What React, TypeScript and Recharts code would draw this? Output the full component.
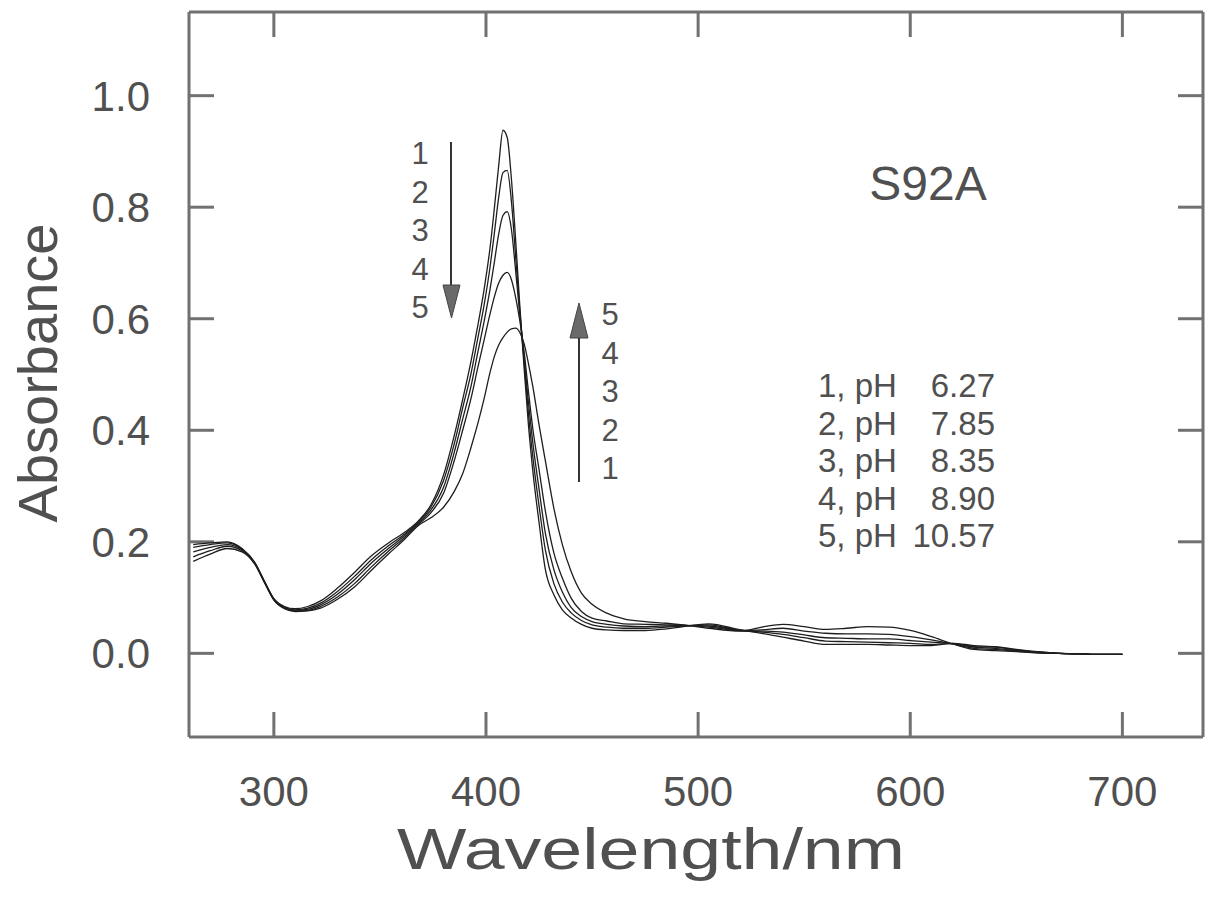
import React from "react";
import { LineChart, Line, XAxis, YAxis, ReferenceLine } from "recharts";

// wavelength grid (nm), denser around the Soret band
const wavelengths = [
  262, 270, 278, 285, 291, 296, 300, 305, 310, 316, 322, 330, 338, 346, 354, 362, 368, 374,
  380, 385, 389, 393, 396, 399, 402, 404, 406, 408, 410, 412, 414, 416, 418, 420, 422, 425,
  428, 432, 436, 440, 445, 450, 457, 465, 475, 485, 493, 505, 520, 530, 540, 550, 560, 570,
  580, 590, 600, 610, 620, 630, 640, 650, 660, 670, 680, 690, 700,
];

// absorbance, one array per pH
const pH627 = [
  0.195, 0.198, 0.2, 0.188, 0.163, 0.126, 0.098, 0.084, 0.08, 0.084, 0.094, 0.117, 0.145, 0.175, 0.198, 0.218, 0.237, 0.266,
  0.32, 0.39, 0.455, 0.525, 0.585, 0.65, 0.73, 0.8, 0.875, 0.938, 0.925, 0.85, 0.74, 0.62, 0.51, 0.41, 0.33, 0.235,
  0.15, 0.105, 0.078, 0.064, 0.052, 0.045, 0.042, 0.041, 0.041, 0.044, 0.048, 0.053, 0.042, 0.036, 0.029, 0.022, 0.016, 0.016,
  0.016, 0.015, 0.014, 0.014, 0.018, 0.014, 0.012, 0.007, 0.003, 0.0, -0.001, -0.002, -0.002,
];
const pH785 = [
  0.19, 0.195, 0.198, 0.187, 0.162, 0.125, 0.097, 0.083, 0.078, 0.081, 0.09, 0.111, 0.138, 0.168, 0.193, 0.215, 0.235, 0.262,
  0.31, 0.375, 0.44, 0.503, 0.562, 0.622, 0.695, 0.755, 0.818, 0.862, 0.866, 0.81, 0.71, 0.612, 0.522, 0.43, 0.355, 0.265,
  0.185, 0.125, 0.092, 0.073, 0.059, 0.051, 0.047, 0.045, 0.045, 0.047, 0.049, 0.051, 0.041, 0.038, 0.034, 0.028, 0.022, 0.021,
  0.02, 0.019, 0.018, 0.016, 0.018, 0.012, 0.011, 0.006, 0.002, 0.0, -0.001, -0.002, -0.002,
];
const pH835 = [
  0.182, 0.19, 0.195, 0.186, 0.162, 0.125, 0.097, 0.082, 0.077, 0.079, 0.087, 0.106, 0.132, 0.162, 0.188, 0.212, 0.233, 0.257,
  0.298, 0.36, 0.42, 0.48, 0.537, 0.593, 0.655, 0.703, 0.752, 0.785, 0.792, 0.76, 0.685, 0.605, 0.53, 0.45, 0.38, 0.295,
  0.215, 0.15, 0.11, 0.083, 0.066, 0.057, 0.052, 0.049, 0.048, 0.049, 0.05, 0.049, 0.041, 0.04, 0.038, 0.033, 0.028, 0.027,
  0.026, 0.026, 0.023, 0.02, 0.017, 0.011, 0.009, 0.005, 0.002, 0.0, -0.001, -0.002, -0.002,
];
const pH890 = [
  0.173, 0.184, 0.192, 0.184, 0.161, 0.124, 0.096, 0.081, 0.076, 0.077, 0.084, 0.101, 0.125, 0.155, 0.183, 0.209, 0.231, 0.252,
  0.287, 0.345, 0.4, 0.458, 0.51, 0.56, 0.61, 0.64, 0.664, 0.678, 0.683, 0.67, 0.638, 0.595, 0.54, 0.47, 0.405, 0.33,
  0.255, 0.18, 0.135, 0.1, 0.075, 0.063, 0.058, 0.053, 0.052, 0.051, 0.05, 0.047, 0.041, 0.042, 0.045, 0.04, 0.036, 0.035,
  0.035, 0.034, 0.03, 0.024, 0.017, 0.009, 0.007, 0.004, 0.001, 0.0, -0.001, -0.002, -0.002,
];
const pH1057 = [
  0.165, 0.178, 0.188, 0.182, 0.16, 0.124, 0.096, 0.08, 0.075, 0.076, 0.081, 0.097, 0.119, 0.149, 0.178, 0.206, 0.229, 0.243,
  0.262, 0.29, 0.322, 0.37, 0.41, 0.455, 0.505, 0.533, 0.553, 0.566, 0.576, 0.582, 0.583, 0.575, 0.555, 0.52, 0.48, 0.41,
  0.345, 0.26, 0.195, 0.148, 0.108, 0.088, 0.072, 0.062, 0.057, 0.054, 0.051, 0.045, 0.04, 0.047, 0.052, 0.048, 0.043, 0.045,
  0.048, 0.047, 0.041, 0.03, 0.017, 0.007, 0.005, 0.003, 0.001, 0.0, -0.001, -0.002, -0.002,
];

const xTicks = [300, 400, 500, 600, 700];
const yTicks = [0, 0.2, 0.4, 0.6, 0.8, 1.0];
const legendRows: [string, string][] = [
  ["1, pH", "6.27"],
  ["2, pH", "7.85"],
  ["3, pH", "8.35"],
  ["4, pH", "8.90"],
  ["5, pH", "10.57"],
];
const downLabels = ["1", "2", "3", "4", "5"];
const upLabels = ["5", "4", "3", "2", "1"];

const series = [
  { key: "a1", values: pH627 },
  { key: "a2", values: pH785 },
  { key: "a3", values: pH835 },
  { key: "a4", values: pH890 },
  { key: "a5", values: pH1057 },
];

const data = wavelengths.map((w, i) => {
  const row: Record<string, number> = { w };
  series.forEach((s) => (row[s.key] = s.values[i]));
  return row;
});

const W = 1214;
const H = 899;
const MARGIN = { top: 12, right: 11, bottom: 132, left: 109 };
const FONT = "'Liberation Sans', Arial, Helvetica, sans-serif";
const FRAME = "#717171";
const TEXT = "#505050";
const X_DOMAIN: [number, number] = [260, 738];
const Y_DOMAIN: [number, number] = [-0.15, 1.15];

// inward tick length, 25px, expressed in data units
const PLOT_W = W - MARGIN.left - 80 - MARGIN.right;
const PLOT_H = H - MARGIN.top - MARGIN.bottom - 30;
const TICK_X = (25 * (X_DOMAIN[1] - X_DOMAIN[0])) / PLOT_W;
const TICK_Y = (25 * (Y_DOMAIN[1] - Y_DOMAIN[0])) / PLOT_H;

const frameProps = { stroke: FRAME, strokeWidth: 3, ifOverflow: "visible" as const };

function Annotations() {
  return (
    <svg
      width={W}
      height={H}
      style={{ position: "absolute", left: 0, top: 0, pointerEvents: "none" }}
      fontFamily={FONT}
    >
      {/* down arrow */}
      <line x1={451} y1={142} x2={451} y2={292} stroke="#333" strokeWidth={2} />
      <polygon points="443,285 460,285 451.5,318" fill="#6a6a6a" stroke="#444" strokeWidth={1} />
      {downLabels.map((t, i) => (
        <text key={"d" + i} x={420} y={164 + i * 38.5} fontSize={31} fill={TEXT} textAnchor="middle">
          {t}
        </text>
      ))}
      {/* up arrow */}
      <line x1={579} y1={482} x2={579} y2={332} stroke="#333" strokeWidth={2} />
      <polygon points="570,338 588,338 579,303" fill="#6a6a6a" stroke="#444" strokeWidth={1} />
      {upLabels.map((t, i) => (
        <text key={"u" + i} x={610} y={325 + i * 38.5} fontSize={31} fill={TEXT} textAnchor="middle">
          {t}
        </text>
      ))}
      <text x={928} y={200} fontSize={48} fill={TEXT} textAnchor="middle">
        S92A
      </text>
      {legendRows.map(([a, b], i) => (
        <g key={"l" + i}>
          <text x={818} y={397 + i * 37.5} fontSize={33} fill={TEXT}>
            {a}
          </text>
          <text x={995} y={397 + i * 37.5} fontSize={33} fill={TEXT} textAnchor="end">
            {b}
          </text>
        </g>
      ))}
      <text
        x={397}
        y={869}
        fontSize={58}
        fill={TEXT}
        textLength={508}
        lengthAdjust="spacingAndGlyphs"
      >
        Wavelength/nm
      </text>
      <text x={57} y={373} fontSize={56} fill={TEXT} textAnchor="middle" transform="rotate(-90 57 373)">
        Absorbance
      </text>
    </svg>
  );
}

export default function App() {
  return (
    <div style={{ position: "absolute", left: 0, top: 0, width: W, height: H, background: "#fff" }}>
      <LineChart width={W} height={H} data={data} margin={MARGIN} style={{ fontFamily: FONT }}>
        <XAxis
          dataKey="w"
          type="number"
          domain={X_DOMAIN}
          ticks={xTicks}
          allowDataOverflow
          height={30}
          axisLine={{ stroke: FRAME, strokeWidth: 3 }}
          tickLine={false}
          tickSize={0}
          tickMargin={39}
          tick={{ fontSize: 42, fill: TEXT }}
        />
        <YAxis
          type="number"
          domain={Y_DOMAIN}
          ticks={yTicks}
          allowDataOverflow
          width={80}
          axisLine={{ stroke: FRAME, strokeWidth: 3 }}
          tickLine={false}
          tickSize={0}
          tickMargin={39}
          tick={{ fontSize: 42, fill: TEXT }}
          tickFormatter={(v: number) => v.toFixed(1)}
        />
        {/* top and right frame */}
        <ReferenceLine y={Y_DOMAIN[1]} {...frameProps} />
        <ReferenceLine x={X_DOMAIN[1]} {...frameProps} />
        {/* inward ticks on all four sides */}
        {xTicks.map((t) => (
          <ReferenceLine
            key={"bt" + t}
            segment={[{ x: t, y: Y_DOMAIN[0] }, { x: t, y: Y_DOMAIN[0] + TICK_Y }]}
            {...frameProps}
          />
        ))}
        {xTicks.map((t) => (
          <ReferenceLine
            key={"tt" + t}
            segment={[{ x: t, y: Y_DOMAIN[1] }, { x: t, y: Y_DOMAIN[1] - TICK_Y }]}
            {...frameProps}
          />
        ))}
        {yTicks.map((t) => (
          <ReferenceLine
            key={"lt" + t}
            segment={[{ x: X_DOMAIN[0], y: t }, { x: X_DOMAIN[0] + TICK_X, y: t }]}
            {...frameProps}
          />
        ))}
        {yTicks.map((t) => (
          <ReferenceLine
            key={"rt" + t}
            segment={[{ x: X_DOMAIN[1], y: t }, { x: X_DOMAIN[1] - TICK_X, y: t }]}
            {...frameProps}
          />
        ))}
        {series.map((s) => (
          <Line
            key={s.key}
            dataKey={s.key}
            type="monotone"
            stroke="#1e1e1e"
            strokeWidth={1.3}
            dot={false}
            activeDot={false}
            isAnimationActive={false}
          />
        ))}
      </LineChart>
      <Annotations />
    </div>
  );
}
